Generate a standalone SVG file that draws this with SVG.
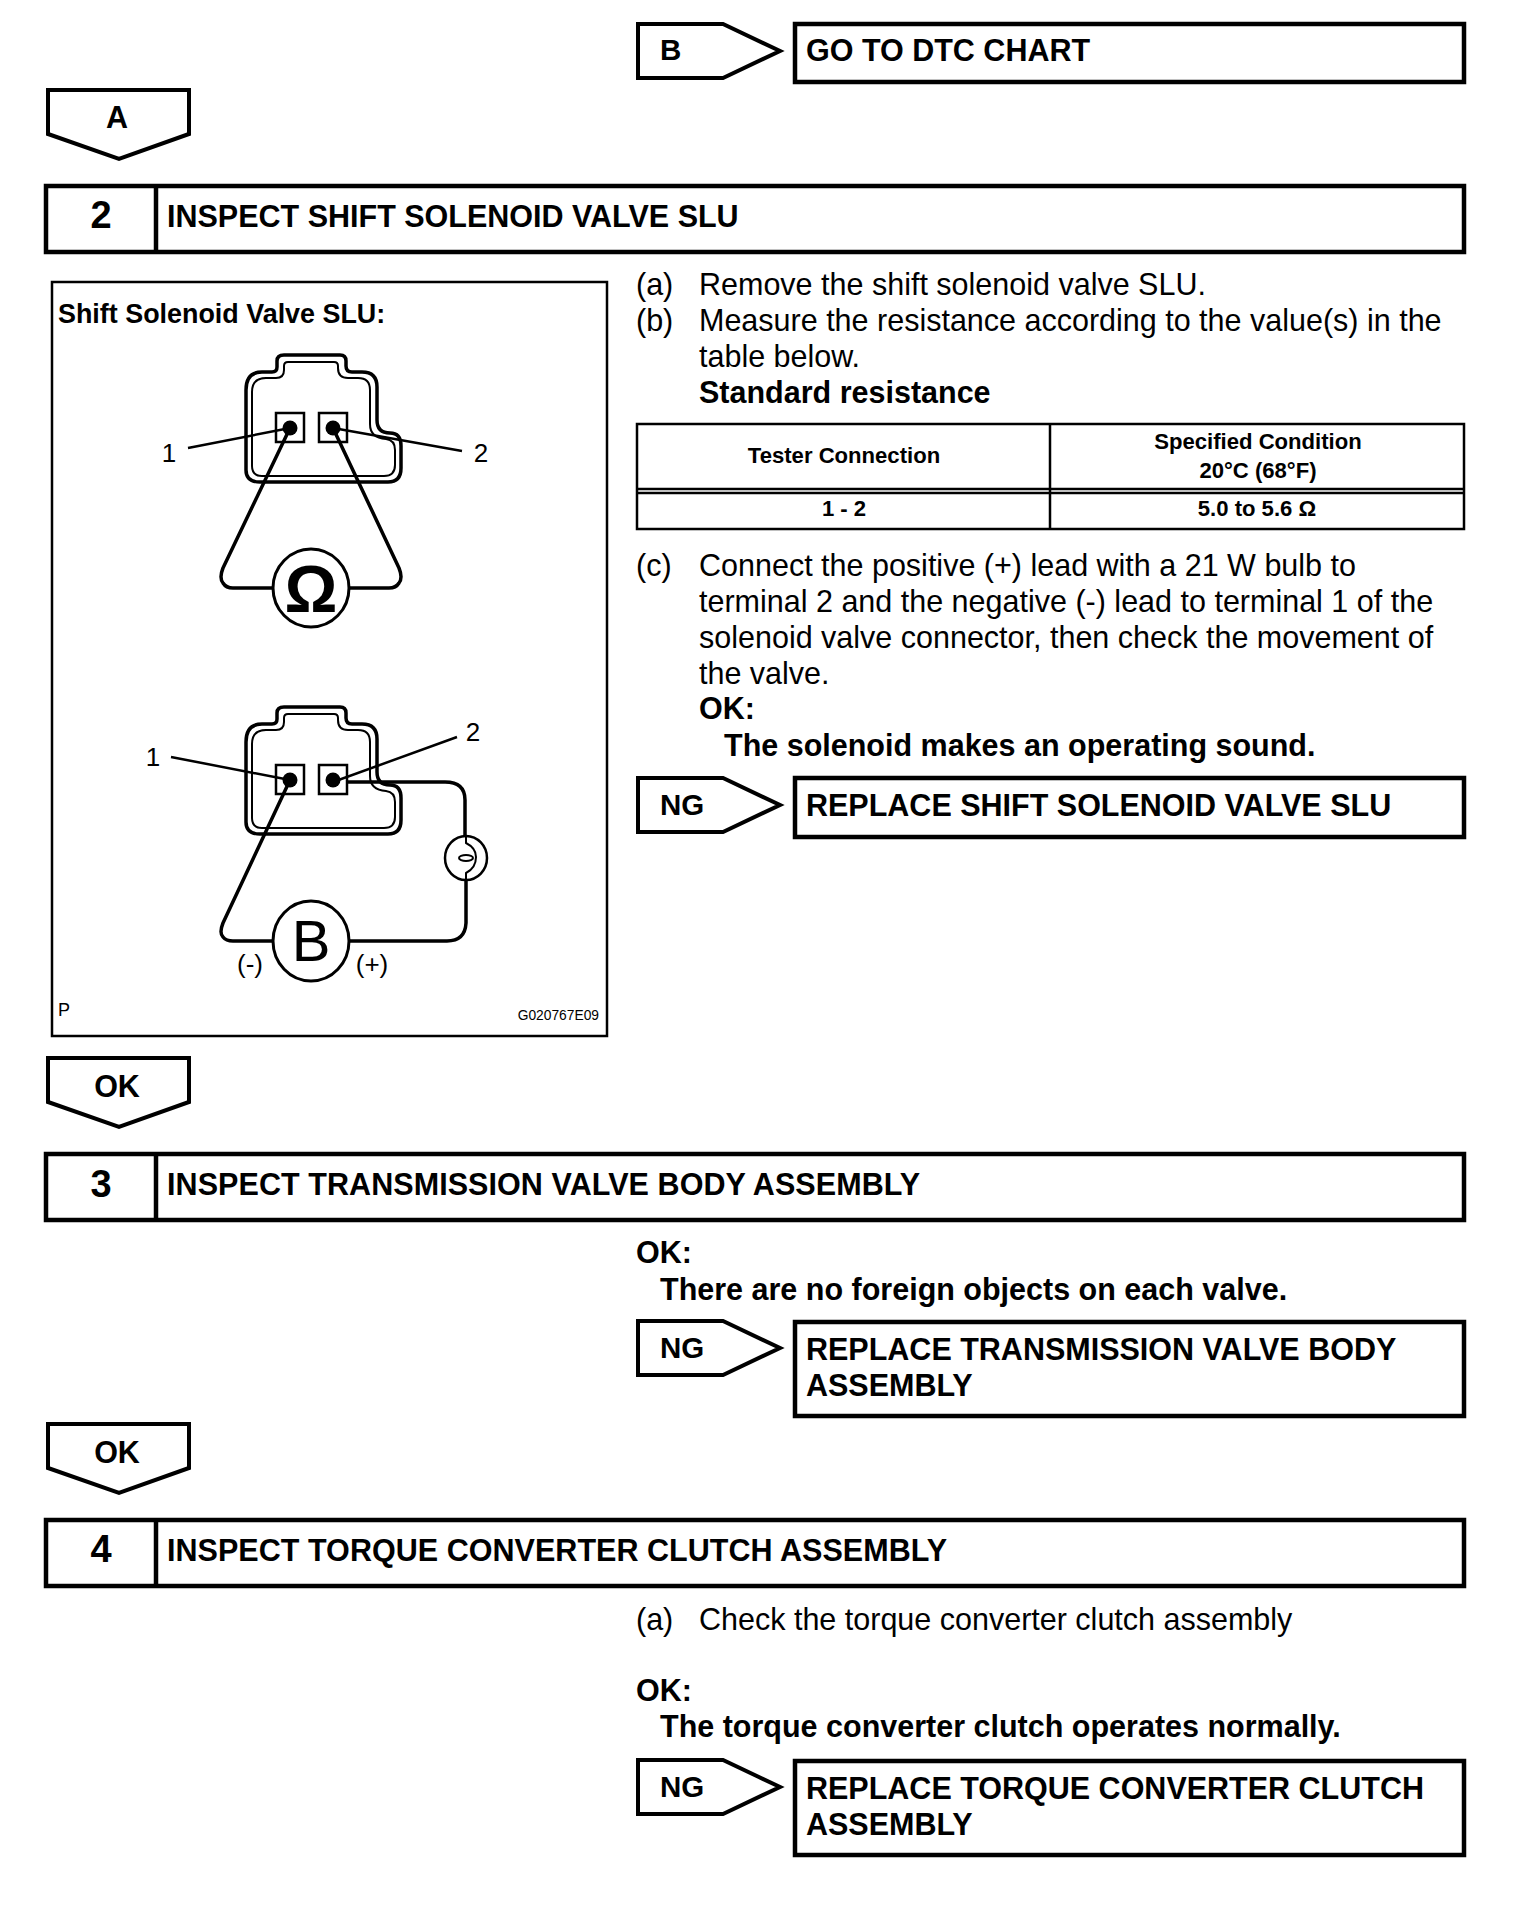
<svg xmlns="http://www.w3.org/2000/svg" width="1536" height="1906" viewBox="0 0 1536 1906">
<style>
text{font-family:"Liberation Sans",Arial,sans-serif;fill:#000}
.b{font-size:30.5px}
.bb{font-size:30.5px;font-weight:700}
.h{font-size:30.5px;font-weight:700}
.n{font-size:38px;font-weight:700;text-anchor:middle}
.t{font-size:22.1px;font-weight:700;text-anchor:middle}
.l{font-size:29.5px;font-weight:700}
.c{font-size:30.5px;font-weight:700;text-anchor:middle}
.d{font-size:26px}
.box{fill:#fff;stroke:#000;stroke-width:4.5}
.pen{fill:#fff;stroke:#000;stroke-width:4;stroke-linejoin:miter}
.ln{fill:none;stroke:#000;stroke-width:2.5}
.wire{fill:none;stroke:#000;stroke-width:3.5;stroke-linejoin:round}
.thin{fill:none;stroke:#000;stroke-width:2}
</style>
<defs>
<g id="conn">
<path fill="none" stroke="#000" stroke-width="3.5" d="M246 470V390Q246 372 262 372H272Q277 372 277 367V361Q277 355 284 355H340Q346 355 346 361V366Q346 372 352 372H362Q377 372 377 387V420Q377 433 390 433Q401 433 401 446V468Q401 482 388 482H260Q246 482 246 470Z"/>
<path fill="none" stroke="#000" stroke-width="2" d="M252 466V392Q252 378 266 378H276Q284 378 284 370V366Q284 362 288 362H334Q338 362 338 366V368Q338 378 348 378H358Q370 378 370 390V424Q370 438 386 439Q395 440 395 450V465Q395 476 384 476H262Q252 476 252 466Z"/>
<rect x="276" y="413" width="28" height="29" fill="none" stroke="#000" stroke-width="2.5"/>
<rect x="319" y="413" width="28" height="29" fill="none" stroke="#000" stroke-width="2.5"/>
<circle cx="290" cy="428" r="7.5"/>
<circle cx="333" cy="428" r="7.5"/>
</g>
<path id="dn" class="pen" d="M0 0H141V44L71 69L0 44Z"/>
<path id="rt" class="pen" d="M0 0H85L142 27L85 54H0Z"/>
</defs>

<g id="tag-b"><use href="#rt" x="638" y="24"/><text class="l" x="660" y="60">B</text></g>
<g id="goto"><rect class="box" x="795" y="24" width="669" height="58"/><text class="h" x="806" y="61">GO TO DTC CHART</text></g>
<g id="tag-a"><use href="#dn" x="48" y="90"/><text class="c" x="117" y="128">A</text></g>

<g id="step2"><rect class="box" x="46" y="186" width="1418" height="66"/><path class="box" d="M156 186V252"/><text class="n" x="101" y="228">2</text><text class="h" x="167" y="227">INSPECT SHIFT SOLENOID VALVE SLU</text></g>

<g id="figure">
<rect x="52" y="282" width="555" height="754" fill="#fff" stroke="#000" stroke-width="2.5"/>
<text x="58" y="323" style="font-size:26.9px;font-weight:700">Shift Solenoid Valve SLU:</text>
</g>

<g id="connectors">
<path class="wire" d="M290 428L223 568Q219 578 223 583Q226 588 233 588H273"/>
<path class="wire" d="M333 428L399 568Q403 578 399 583Q396 588 389 588H349"/>
<path class="ln" d="M188 448L290 428M462 451L333 428"/>
<path class="wire" d="M290 780L223 923Q219 933 223 937Q226 941 233 941H272"/>
<path class="wire" d="M347 782H445Q465 782 465 800V836"/>
<path class="wire" d="M466 880V923Q465 941 447 941H349"/>
<path class="thin" d="M466 836V843Q476 848 476 857Q476 868 466 873V880"/>
<path class="ln" d="M171 757L290 780M457 737L333 782"/>
</g>

<g id="conn-top"><use href="#conn"/>
<text class="d" x="169" y="462" text-anchor="middle">1</text><text class="d" x="481" y="462" text-anchor="middle">2</text></g>
<g id="meter"><ellipse cx="311" cy="588" rx="38" ry="39" fill="#fff" stroke="#000" stroke-width="3"/><text x="311" y="612" text-anchor="middle" style="font-size:66px;font-weight:700">Ω</text></g>
<g id="conn-bottom"><use href="#conn" y="352"/>
<text class="d" x="153" y="766" text-anchor="middle">1</text><text class="d" x="473" y="741" text-anchor="middle">2</text></g>
<g id="bulb"><ellipse cx="466" cy="858" rx="21" ry="22" fill="none" stroke="#000" stroke-width="2.5"/><ellipse cx="466" cy="858" rx="7" ry="3" fill="none" stroke="#000" stroke-width="2"/></g>
<g id="battery"><ellipse cx="311" cy="941" rx="38" ry="40" fill="#fff" stroke="#000" stroke-width="3"/><text x="311" y="961" text-anchor="middle" style="font-size:58px">B</text>
<text class="d" x="250" y="973" text-anchor="middle">(-)</text><text class="d" x="372" y="973" text-anchor="middle">(+)</text></g>
<text x="58" y="1016" style="font-size:18px">P</text>
<text x="599" y="1020" text-anchor="end" style="font-size:13.8px">G020767E09</text>

<g id="text-2">
<text class="b" x="636" y="295">(a)</text><text class="b" x="699" y="295">Remove the shift solenoid valve SLU.</text>
<text class="b" x="636" y="331">(b)</text><text class="b" x="699" y="331">Measure the resistance according to the value(s) in the</text>
<text class="b" x="699" y="367">table below.</text>
<text class="bb" x="699" y="403">Standard resistance</text>
</g>
<g id="table">
<rect x="637" y="424" width="827" height="105" fill="#fff" stroke="#000" stroke-width="2.5"/>
<path class="ln" d="M637 489H1464M637 493H1464M1050 424V529"/>
<text class="t" x="844" y="463">Tester Connection</text>
<text class="t" x="1258" y="449">Specified Condition</text>
<text class="t" x="1258" y="478">20°C (68°F)</text>
<text class="t" x="844" y="516">1 - 2</text>
<text class="t" x="1257" y="516">5.0 to 5.6 Ω</text>
</g>
<g id="text-c">
<text class="b" x="636" y="576">(c)</text>
<text class="b" x="699" y="576">Connect the positive (+) lead with a 21 W bulb to</text>
<text class="b" x="699" y="612">terminal 2 and the negative (-) lead to terminal 1 of the</text>
<text class="b" x="699" y="648">solenoid valve connector, then check the movement of</text>
<text class="b" x="699" y="684">the valve.</text>
<text class="bb" x="699" y="719">OK:</text>
<text class="bb" x="724" y="756">The solenoid makes an operating sound.</text>
</g>
<g id="tag-ng1"><use href="#rt" x="638" y="778"/><text class="l" x="660" y="815">NG</text></g>
<g id="result1"><rect class="box" x="795" y="778" width="669" height="59"/><text class="h" x="806" y="816">REPLACE SHIFT SOLENOID VALVE SLU</text></g>
<g id="tag-ok1"><use href="#dn" x="48" y="1058"/><text class="c" x="117" y="1097">OK</text></g>

<g id="step3"><rect class="box" x="46" y="1154" width="1418" height="66"/><path class="box" d="M156 1154V1220"/><text class="n" x="101" y="1197">3</text><text class="h" x="167" y="1195" textLength="753">INSPECT TRANSMISSION VALVE BODY ASSEMBLY</text></g>
<g id="text-3">
<text class="bb" x="636" y="1263">OK:</text>
<text class="bb" x="660" y="1300">There are no foreign objects on each valve.</text>
</g>
<g id="tag-ng2"><use href="#rt" x="638" y="1321"/><text class="l" x="660" y="1358">NG</text></g>
<g id="result2"><rect class="box" x="795" y="1322" width="669" height="94"/><text class="h" x="806" y="1360">REPLACE TRANSMISSION VALVE BODY</text><text class="h" x="806" y="1396">ASSEMBLY</text></g>
<g id="tag-ok2"><use href="#dn" x="48" y="1424"/><text class="c" x="117" y="1463">OK</text></g>

<g id="step4"><rect class="box" x="46" y="1520" width="1418" height="66"/><path class="box" d="M156 1520V1586"/><text class="n" x="101" y="1562">4</text><text class="h" x="167" y="1561" textLength="780">INSPECT TORQUE CONVERTER CLUTCH ASSEMBLY</text></g>
<g id="text-4">
<text class="b" x="636" y="1630">(a)</text><text class="b" x="699" y="1630">Check the torque converter clutch assembly</text>
<text class="bb" x="636" y="1701">OK:</text>
<text class="bb" x="660" y="1737">The torque converter clutch operates normally.</text>
</g>
<g id="tag-ng3"><use href="#rt" x="638" y="1760"/><text class="l" x="660" y="1797">NG</text></g>
<g id="result3"><rect class="box" x="795" y="1761" width="669" height="94"/><text class="h" x="806" y="1799">REPLACE TORQUE CONVERTER CLUTCH</text><text class="h" x="806" y="1835">ASSEMBLY</text></g>
</svg>
